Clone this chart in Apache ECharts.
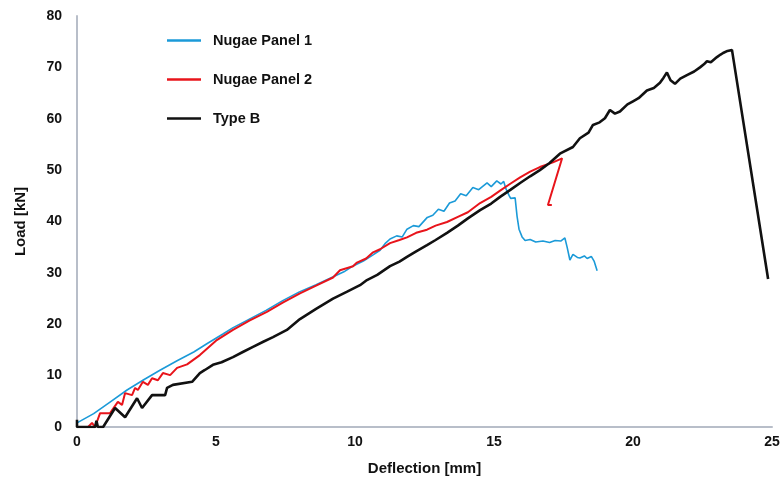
<!DOCTYPE html>
<html>
<head>
<meta charset="utf-8">
<script src="https://cdn.jsdelivr.net/npm/echarts@6/dist/echarts.min.js"></script>
<style>
  html, body { margin: 0; padding: 0; background: #fff; }
  #main { width: 782px; height: 477px; }
</style>
</head>
<body>
<div id="main"></div>
<script>
// series names
var names = ['Nugae Panel 1', 'Nugae Panel 2', 'Type B'];

// [deflection mm, load kN]
var panel1 = [
    [0, 0.8], [0.6, 2.6], [1.2, 4.9], [1.8, 7.2], [2.4, 9.2], [3.0, 11.1], [3.6, 12.9], [4.2, 14.6],
    [4.7, 16.3], [5.25, 18.1], [5.6, 19.3], [6.2, 21.0], [6.8, 22.7], [7.4, 24.6], [8.0, 26.3],
    [8.6, 27.7], [9.2, 29.2], [9.6, 30.2], [9.95, 31.4], [10.3, 32.3], [10.65, 33.5], [10.9, 34.4],
    [11.1, 35.8], [11.26, 36.6], [11.5, 37.2], [11.7, 37.0], [11.87, 38.5], [12.1, 39.2], [12.3, 39.0],
    [12.6, 40.8], [12.8, 41.2], [13.0, 42.4], [13.2, 42.0], [13.4, 43.6], [13.6, 44.0], [13.8, 45.4],
    [14.0, 45.0], [14.24, 46.6], [14.45, 46.2], [14.75, 47.5], [14.9, 46.8], [15.1, 47.9], [15.25, 47.3],
    [15.35, 47.8], [15.42, 46.5], [15.55, 45.0], [15.6, 44.5], [15.76, 44.6], [15.83, 41.0], [15.9, 38.5],
    [16.01, 37.0], [16.12, 36.3], [16.3, 36.5], [16.5, 36.0], [16.76, 36.2], [17.0, 35.9], [17.2, 36.3],
    [17.4, 36.2], [17.55, 36.8], [17.63, 35.0], [17.73, 32.5], [17.84, 33.6], [18.0, 33.0], [18.09, 32.9],
    [18.25, 33.3], [18.35, 32.8], [18.5, 33.2], [18.6, 32.3], [18.71, 30.4]
];

var panel2 = [
    [0.4, 0], [0.54, 0.8], [0.65, 0], [0.83, 2.7], [1.19, 2.7], [1.47, 4.9], [1.62, 4.3], [1.73, 6.6],
    [1.98, 6.2], [2.09, 7.6], [2.19, 7.2], [2.37, 8.8], [2.55, 8.2], [2.7, 9.5], [2.91, 9.1], [3.09, 10.5],
    [3.35, 10.1], [3.6, 11.5], [3.96, 12.2], [4.42, 14.0], [5.0, 16.8], [5.61, 18.9], [6.2, 20.7],
    [6.83, 22.4], [7.4, 24.2], [8.02, 26.0], [8.6, 27.5], [9.21, 29.1], [9.46, 30.5], [9.93, 31.3],
    [10.07, 32.0], [10.4, 32.8], [10.65, 34.0], [10.9, 34.6], [11.26, 35.8], [11.6, 36.4], [11.87, 36.9],
    [12.2, 37.8], [12.59, 38.4], [12.9, 39.2], [13.31, 39.9], [13.7, 40.9], [14.06, 41.8], [14.5, 43.6],
    [14.9, 44.8], [15.22, 46.0], [15.6, 47.4], [15.94, 48.6], [16.3, 49.7], [16.65, 50.6], [17.12, 51.5],
    [17.45, 52.3], [16.94, 43.2], [17.08, 43.2]
];

var typeB = [
    [0, 1.4], [0, 0], [0.65, 0], [0.7, 1.2], [0.75, 0], [0.94, 0], [1.37, 3.7], [1.73, 1.9], [2.16, 5.6],
    [2.34, 3.7], [2.7, 6.2], [3.17, 6.2], [3.24, 7.6], [3.45, 8.2], [4.14, 8.8], [4.42, 10.5], [4.6, 11.1],
    [4.89, 12.1], [5.2, 12.6], [5.61, 13.6], [6.0, 14.7], [6.33, 15.6], [6.7, 16.6], [7.05, 17.5],
    [7.55, 18.9], [8.02, 21.0], [8.6, 23.0], [9.21, 25.0], [9.7, 26.3], [10.18, 27.6], [10.43, 28.6],
    [10.8, 29.6], [11.26, 31.3], [11.6, 32.2], [11.87, 33.1], [12.2, 34.2], [12.59, 35.4], [12.9, 36.4],
    [13.31, 37.8], [13.7, 39.2], [14.06, 40.6], [14.5, 42.2], [14.9, 43.5], [15.22, 44.8], [15.6, 46.2],
    [15.94, 47.5], [16.3, 48.8], [16.65, 50.0], [17.0, 51.4], [17.37, 53.2], [17.84, 54.5], [18.09, 56.2],
    [18.4, 57.3], [18.56, 58.8], [18.8, 59.3], [18.99, 60.1], [19.17, 61.7], [19.35, 61.0], [19.53, 61.4],
    [19.8, 62.8], [20.0, 63.4], [20.2, 64.0], [20.5, 65.5], [20.75, 66.0], [20.97, 67.0], [21.1, 68.0],
    [21.22, 69.0], [21.35, 67.5], [21.51, 66.8], [21.7, 67.8], [21.94, 68.5], [22.2, 69.2], [22.41, 70.0],
    [22.55, 70.6], [22.66, 71.2], [22.8, 71.0], [23.02, 72.0], [23.15, 72.5], [23.24, 72.8], [23.4, 73.2],
    [23.56, 73.4], [24.86, 28.8]
];

var font = "'Liberation Sans', Arial, sans-serif";
var axisGrey = '#b8bec9';

var myChart = echarts.init(document.getElementById('main'));
myChart.setOption({
    animation: false,
    color: ['#1b9ad8', '#e8141b', '#111111'],
    grid: { left: 77, right: 10, top: 16, bottom: 50, outerBoundsMode: 'none', containLabel: false },
    legend: {
        orient: 'vertical',
        left: 162,
        top: 28,
        itemGap: 24,
        itemWidth: 34,
        itemHeight: 2.5,
        icon: 'rect',
        textStyle: { fontFamily: font, fontWeight: 'bold', fontSize: 14.5, color: '#111', padding: [0, 0, 0, 7] },
        data: names
    },
    xAxis: {
        type: 'value',
        min: 0, max: 25, interval: 5,
        name: 'Deflection [mm]',
        nameLocation: 'middle',
        nameGap: 34,
        nameTextStyle: { fontFamily: font, fontWeight: 'bold', fontSize: 15, color: '#111' },
        axisLine: { show: true, lineStyle: { color: axisGrey, width: 2 } },
        axisTick: { show: false },
        splitLine: { show: false },
        axisLabel: { fontFamily: font, fontWeight: 'bold', fontSize: 14, color: '#111', margin: 8 }
    },
    yAxis: {
        type: 'value',
        min: 0, max: 80, interval: 10,
        name: 'Load [kN]',
        nameLocation: 'middle',
        nameGap: 49,
        nameTextStyle: { fontFamily: font, fontWeight: 'bold', fontSize: 15, color: '#111' },
        axisLine: { show: true, lineStyle: { color: axisGrey, width: 2 } },
        axisTick: { show: false },
        splitLine: { show: false },
        axisLabel: { fontFamily: font, fontWeight: 'bold', fontSize: 14, color: '#111', margin: 15 }
    },
    series: [
        { name: names[0], type: 'line', data: panel1, symbol: 'none', lineStyle: { width: 1.6 } },
        { name: names[1], type: 'line', data: panel2, symbol: 'none', lineStyle: { width: 2 } },
        { name: names[2], type: 'line', data: typeB, symbol: 'none', lineStyle: { width: 2.6 } }
    ]
});
</script>
</body>
</html>
